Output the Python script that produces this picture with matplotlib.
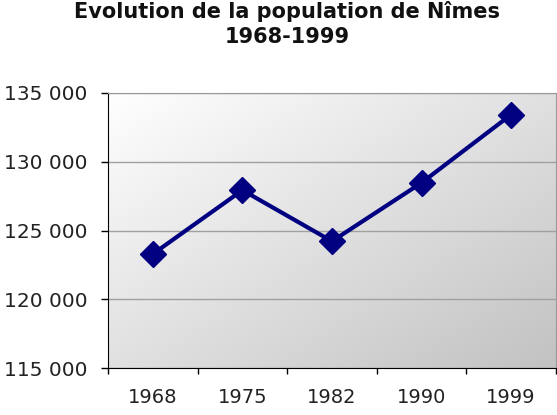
import numpy as np
import matplotlib.pyplot as plt
from matplotlib.ticker import FuncFormatter

years = ['1968', '1975', '1982', '1990', '1999']
population = [123292, 127933, 124220, 128471, 133424]

fig = plt.figure(figsize=(5.57, 4.15), dpi=100)
ax = fig.add_axes([0.194, 0.113, 0.804, 0.663])

# gradient background, white top-left to grey bottom-right
gx, gy = np.meshgrid(np.linspace(0, 1, 200), np.linspace(0, 1, 200))
t = (gx + gy) / 2
shade = 1 - t * (1 - 0.76)
img = np.dstack([shade, shade, shade])
ax.imshow(img, extent=[0, 1, 0, 1], transform=ax.transAxes,
          aspect='auto', zorder=0, origin='upper')

x = np.arange(len(years))
ax.plot(x, population, color='#000080', lw=3, marker='D', markersize=13, zorder=3)

ax.set_xlim(-0.5, len(years) - 0.5)
ax.set_ylim(115000, 135000)
ax.set_yticks(np.arange(115000, 135001, 5000))
ax.yaxis.set_major_formatter(FuncFormatter(lambda v, p: f'{int(v):,}'.replace(',', ' ')))
ax.grid(axis='y', color='#a0a0a0', lw=1, zorder=1)

ax.set_xticks(x)
ax.set_xticklabels(years)
ax.set_xticks(np.arange(-0.5, len(years)), minor=True)
ax.tick_params(axis='x', which='major', length=0, pad=14, labelsize=14, labelcolor='#222222')
ax.tick_params(axis='x', which='minor', length=4, width=1)
ax.tick_params(axis='y', length=5, width=1, labelsize=14.5, pad=10, labelcolor='#222222')

for s in ['top', 'right']:
    ax.spines[s].set_color('#999999')
for s in ['left', 'bottom']:
    ax.spines[s].set_color('black')

fig.text(0.515, 0.997, 'Evolution de la population de Nîmes\n1968-1999', fontsize=15,
         fontweight='bold', ha='center', va='top', linespacing=1.3, color='#111111')

fig.savefig('out.png', dpi=100)
